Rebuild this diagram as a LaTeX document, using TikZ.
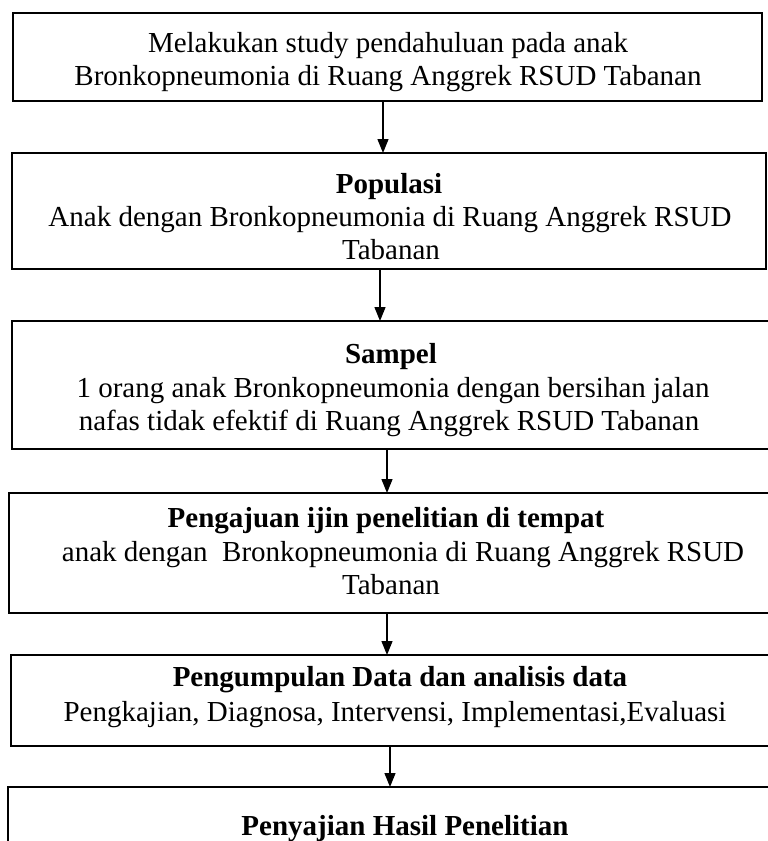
\documentclass[tikz,border=0pt]{standalone}
\usepackage{fontspec}
\setmainfont{Liberation Serif}
\usetikzlibrary{arrows.meta}
\begin{document}
\begin{tikzpicture}[x=1pt,y=1pt,
  box/.style={draw=black, line width=1.8pt, rectangle, inner sep=0pt, outer sep=0pt},
  txt/.style={anchor=base, inner sep=0pt, outer sep=0pt, font=\fontsize{29}{33}\selectfont},
  ttl/.style={txt, font=\fontsize{29}{33}\selectfont\bfseries},
  arr/.style={line width=1.3pt, -{Triangle[length=14pt,width=11pt]}}]
\useasboundingbox (0,0) rectangle (768,-841);
\clip (0,0) rectangle (768,-841);
% boxes
\node[box, minimum width=749pt, minimum height=88pt] (b1) at (387.5,-57) {};
\node[box, minimum width=754pt, minimum height=116pt] (b2) at (389,-211) {};
\node[box, minimum width=778pt, minimum height=128pt] (b3) at (401,-385) {};
\node[box, minimum width=781pt, minimum height=120pt] (b4) at (399.5,-553) {};
\node[box, minimum width=779pt, minimum height=91pt] (b5) at (400.5,-700.5) {};
\node[box, minimum width=782pt, minimum height=100pt] (b6) at (399,-837) {};
% texts
\node[txt] (t1a) at (388,-52) {Melakukan study pendahuluan pada anak};
\node[txt] (t1b) at (388,-85) {Bronkopneumonia di Ruang Anggrek RSUD Tabanan};
\node[ttl] (t2a) at (389,-193) {Populasi};
\node[txt] (t2b) at (390,-226) {Anak dengan Bronkopneumonia di Ruang Anggrek RSUD};
\node[txt] (t2c) at (391,-259) {Tabanan};
\node[ttl] (t3a) at (391,-363) {Sampel};
\node[txt] (t3b) at (393,-397) {1 orang anak Bronkopneumonia dengan bersihan jalan};
\node[txt] (t3c) at (389,-430) {nafas tidak efektif di Ruang Anggrek RSUD Tabanan};
\node[ttl] (t4a) at (386,-527) {Pengajuan ijin penelitian di tempat};
\node[txt] (t4b) at (403,-561) {anak dengan\ \ Bronkopneumonia di Ruang Anggrek RSUD};
\node[txt] (t4c) at (391,-594) {Tabanan};
\node[ttl] (t5a) at (400,-686) {Pengumpulan Data dan analisis data};
\node[txt] (t5b) at (395,-721) {Pengkajian, Diagnosa, Intervensi, Implementasi,Evaluasi};
\node[ttl] (t6a) at (405,-835) {Penyajian Hasil Penelitian};
% arrows
\draw[arr] (b1.south -| 383,0) -- (b2.north -| 383,0);
\draw[arr] (b2.south -| 380,0) -- (b3.north -| 380,0);
\draw[arr] (b3.south -| 387,0) -- (b4.north -| 387,0);
\draw[arr] (b4.south -| 387,0) -- (b5.north -| 387,0);
\draw[arr] (b5.south -| 390,0) -- (b6.north -| 390,0);
\end{tikzpicture}
\end{document}
